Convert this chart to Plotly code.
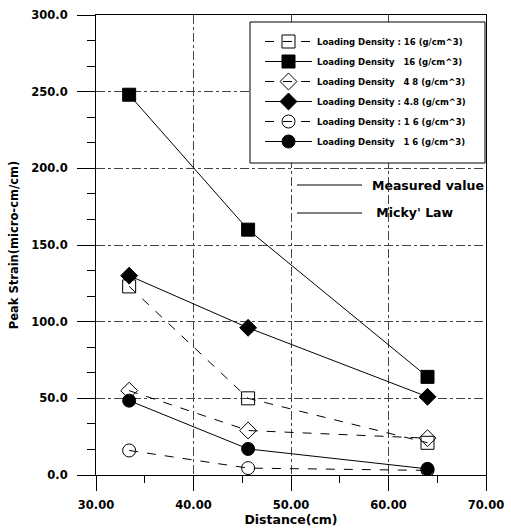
import plotly.graph_objects as go

distance = [33.4, 45.6, 64.0]
open_sq_16 = [123, 50, 21]
fill_sq_16 = [248, 160, 64]
open_di_48 = [55, 29, 24]
fill_di_48 = [130, 96, 51]
open_ci_16 = [16, 4.5, 3]
fill_ci_16 = [48.5, 17, 4]

names = [
    "Loading Density : 16 (g/cm^3)",
    "Loading Density   16 (g/cm^3)",
    "Loading Density   4 8 (g/cm^3)",
    "Loading Density : 4.8 (g/cm^3)",
    "Loading Density : 1 6 (g/cm^3)",
    "Loading Density   1 6 (g/cm^3)",
]
series = [open_sq_16, fill_sq_16, open_di_48, fill_di_48, open_ci_16, fill_ci_16]
symbols = ["square-open", "square", "diamond-open", "diamond", "circle-open", "circle"]
dashes = ["dash", "solid", "dash", "solid", "dash", "solid"]
sizes = [13, 13, 13, 13, 13, 13]

extra_labels = ["Measured value", " Micky' Law"]

FONT = "DejaVu Sans, Verdana, sans-serif"
fig = go.Figure()
for i, (nm, ys, sym, d, s) in enumerate(zip(names, series, symbols, dashes, sizes)):
    fig.add_trace(go.Scatter(
        x=distance, y=ys, name=nm, mode="lines+markers",
        legendgroup=f"g{i}",
        line=dict(color="black", width=1, dash=d),
        marker=dict(symbol=sym, size=s, color="black",
                    line=dict(color="black", width=1)),
    ))

tickfont = dict(family=FONT, size=11.5, color="black", weight="bold")
grid = dict(showgrid=True, gridcolor="#444", gridwidth=1, griddash="dashdot",
            zeroline=False, showline=True, linecolor="black", linewidth=1,
            mirror=True, automargin=False)

fig.update_layout(
    width=511, height=530,
    margin=dict(l=96, r=25, t=15, b=55),
    paper_bgcolor="white", plot_bgcolor="white",
    font=dict(family=FONT, color="black"),
    xaxis=dict(range=[30, 70], tick0=30, dtick=10, tickformat=".2f",
               ticks="outside", ticklen=15, tickcolor="black", tickfont=tickfont,
               ticklabelstandoff=4,
               minor=dict(tick0=30, dtick=5, ticks="outside", ticklen=7,
                          tickcolor="black", showgrid=False),
               title=dict(text="Distance(cm)", standoff=3,
                          font=dict(family=FONT, size=12.5, weight="bold")),
               **grid),
    yaxis=dict(range=[0, 300], tick0=0, dtick=50, tickformat=".1f",
               ticks="outside", ticklen=18, tickcolor="black", tickfont=tickfont,
               ticklabelstandoff=7,
               minor=dict(tick0=0, dtick=50 / 3, ticks="outside", ticklen=8,
                          tickcolor="black", showgrid=False),
               title=dict(text="Peak Strain(micro-cm/cm)", standoff=10,
                          font=dict(family=FONT, size=11.5, weight="bold")),
               **grid),
    legend=dict(x=(260 - 96) / 390, y=(475 - 27) / 460, xanchor="left", yanchor="top",
                bgcolor="rgba(0,0,0,0)", borderwidth=0,
                font=dict(family=FONT, size=8.5, weight="bold", color="black"),
                tracegroupgap=1, itemwidth=47, traceorder="grouped"),
    showlegend=True,
)

# white legend box
fig.add_shape(type="rect", xref="paper", yref="paper",
              x0=(250 - 96) / 390, x1=(485 - 96) / 390,
              y0=(475 - 163) / 460, y1=(475 - 22) / 460,
              line=dict(color="black", width=1), fillcolor="white", layer="above")

# "Measured value" / "Micky' Law" key
for lbl, ypix, xt in zip(extra_labels, [185, 213], [370, 370]):
    yp = (475 - ypix) / 460
    fig.add_shape(type="line", xref="paper", yref="paper",
                  x0=(297 - 96) / 390, x1=(362 - 96) / 390, y0=yp, y1=yp,
                  line=dict(color="black", width=1), layer="above")
    fig.add_annotation(xref="paper", yref="paper", x=(xt - 96) / 390, y=yp,
                       xanchor="left", yanchor="middle", showarrow=False,
                       text=lbl, font=dict(family=FONT, size=12.5, weight="bold", color="black"))

fig.write_html("out.html")
